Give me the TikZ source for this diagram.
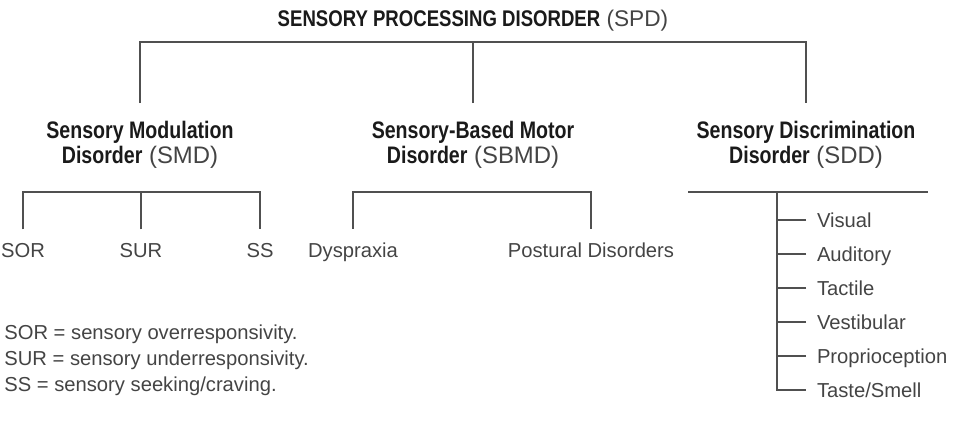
\documentclass[tikz,border=0pt]{standalone}
\usepackage{fontspec}
\setmainfont{Liberation Sans}[BoldFeatures={FakeStretch=0.82}]
\usepackage{xcolor}
\usepackage{tikz}

\definecolor{ink}{HTML}{1A1A1A}
\definecolor{soft}{HTML}{444444}
\definecolor{linegray}{HTML}{505050}
\newcommand{\hd}[1]{\textcolor{ink}{\textbf{#1}}}

\begin{document}
\begin{tikzpicture}[x=0.02cm, y=-0.02cm,
    every node/.style={inner sep=0pt, text=soft, font=\fontsize{11.5}{13}\selectfont},
    link/.style={draw=linegray, line width=1.2pt},
    head/.style={anchor=base, font=\fontsize{12.9}{15}\selectfont},
    group/.style={align=center, anchor=north, outer ysep=0.36cm, font=\fontsize{13.6}{14.2}\selectfont},
    leaf/.style={anchor=base, outer ysep=0.27cm},
    item/.style={anchor=west, outer xsep=0.22cm, text height=8.2pt, text depth=0pt},
    note/.style={anchor=base west}]
                    \useasboundingbox (0,0) rectangle (960,426);
                    % Nodes
                    \node[head] (spd) at (473,27) {\hd{SENSORY PROCESSING DISORDER} (SPD)};

                    \node[group] (smd) at (140,103) {\hd{Sensory Modulation}\\\hd{Disorder} (SMD)};
                    \node[group] (sbmd) at (473,103) {\hd{Sensory-Based Motor}\\\hd{Disorder} (SBMD)};
                    \node[group] (sdd) at (806,103) {\hd{Sensory Discrimination}\\\hd{Disorder} (SDD)};

                    \node[leaf] (sor) at (23,257) {SOR};
                    \node[leaf] (sur) at (141,257) {SUR};
                    \node[leaf] (ss) at (260,257) {SS};
                    \node[leaf] (dyspraxia) at (353,257) {Dyspraxia};
                    \node[leaf] (postural) at (591,257) {Postural Disorders};

                    \node[item] (visual) at (806,220) {Visual};
                    \node[item] (auditory) at (806,254) {Auditory};
                    \node[item] (tactile) at (806,288) {Tactile};
                    \node[item] (vestibular) at (806,322) {Vestibular};
                    \node[item] (proprio) at (806,356) {Proprioception};
                    \node[item] (taste) at (806,390) {Taste/Smell};

                    \node[note] (sordef) at (4,339) {SOR = sensory overresponsivity.};
                    \node[note] (surdef) at (4,365) {SUR = sensory underresponsivity.};
                    \node[note] (ssdef) at (4,391) {SS = sensory seeking/craving.};

                    % Bus points
                    \coordinate (spdbus) at (473,42);
                    \coordinate (smdbus) at (141,192);
                    \coordinate (sbmdbus) at (470,192);
                    \coordinate (sddleft) at (688,192);
                    \coordinate (sddright) at (928,192);
                    \coordinate (stem) at (777,192);

                    % Edges
                    \draw[link] (smd.north) |- (spdbus) -| (sdd.north);
                    \draw[link] (sbmd.north) -- (spdbus);

                    \draw[link] (sor.north) |- (smdbus) -| (ss.north);
                    \draw[link] (sur.north) -- (smdbus);
                    \draw[link] (dyspraxia.north) |- (sbmdbus) -| (postural.north);

                    \draw[link] (sddleft) -- (sddright);
                    \draw[link] (stem) |- (taste.west);
                    \draw[link] (visual.west) -- (visual.west -| stem);
                    \draw[link] (auditory.west) -- (auditory.west -| stem);
                    \draw[link] (tactile.west) -- (tactile.west -| stem);
                    \draw[link] (vestibular.west) -- (vestibular.west -| stem);
                    \draw[link] (proprio.west) -- (proprio.west -| stem);
                \end{tikzpicture}
\end{document}
